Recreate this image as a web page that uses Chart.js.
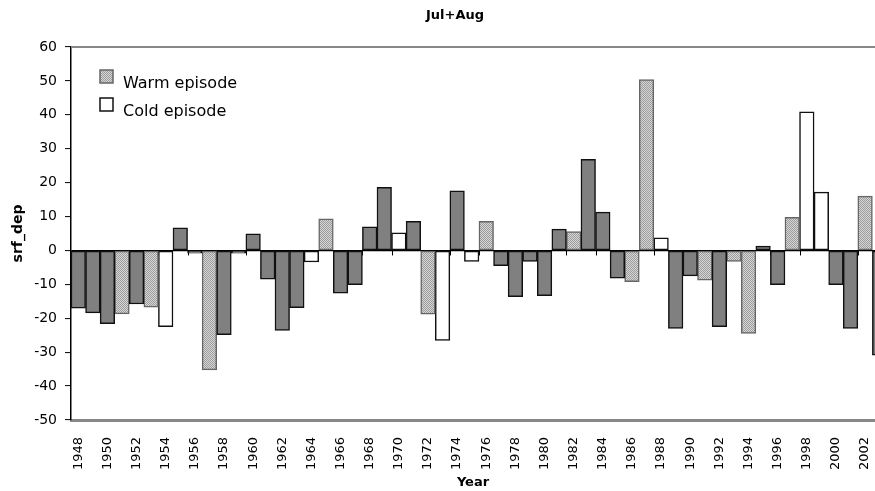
<!DOCTYPE html>
<html>
<head>
<meta charset="utf-8">
<script src="https://cdn.jsdelivr.net/npm/chart.js@4"></script>
<style>
  html, body { margin: 0; padding: 0; background: #fff; overflow: hidden; }
  #wrap { width: 875px; height: 491px; position: relative; }
</style>
</head>
<body>
<div id="wrap"><canvas id="chart"></canvas></div>
<script>
// srf_dep, Jul+Aug, 1948-2003
const years = [
  1948, 1949, 1950, 1951, 1952, 1953, 1954, 1955, 1956, 1957,
  1958, 1959, 1960, 1961, 1962, 1963, 1964, 1965, 1966, 1967,
  1968, 1969, 1970, 1971, 1972, 1973, 1974, 1975, 1976, 1977,
  1978, 1979, 1980, 1981, 1982, 1983, 1984, 1985, 1986, 1987,
  1988, 1989, 1990, 1991, 1992, 1993, 1994, 1995, 1996, 1997,
  1998, 1999, 2000, 2001, 2002, 2003
];
const values = [
  -17.0, -18.4, -21.6, -18.7, -15.8, -16.7, -22.5, 6.7, -0.8, -35.2,
  -24.8, -0.8, 4.9, -8.5, -23.6, -16.9, -3.4, 9.3, -12.6, -10.1,
  7.0, 18.6, 5.2, 8.6, -18.8, -26.5, 17.6, -3.2, 8.6, -4.5,
  -13.6, -3.2, -13.3, 6.3, 5.6, 26.9, 11.3, -8.2, -9.2, 50.4,
  3.7, -23.0, -7.5, -8.8, -22.5, -3.2, -24.5, 1.3, -10.1, 9.8,
  40.9, 17.2, -10.1, -23.0, 16.0, -30.9
];
// N = neutral, W = warm episode, C = cold episode
const phase = [
  'N', 'N', 'N', 'W', 'N', 'W', 'C', 'N', 'N', 'W',
  'N', 'N', 'N', 'N', 'N', 'N', 'C', 'W', 'N', 'N',
  'N', 'N', 'C', 'N', 'W', 'C', 'N', 'C', 'W', 'N',
  'N', 'N', 'N', 'N', 'W', 'N', 'N', 'N', 'W', 'W',
  'C', 'N', 'N', 'W', 'N', 'W', 'W', 'N', 'N', 'W',
  'C', 'C', 'N', 'N', 'W', 'N'
];
const yTicks = { min: -50, max: 60, step: 10 };

Chart.defaults.font.family = "'DejaVu Sans', sans-serif";
Chart.defaults.color = '#000';

// stipple fill for the warm bars
function makeStipple() {
  const c = document.createElement('canvas');
  c.width = 2; c.height = 2;
  const g = c.getContext('2d');
  g.fillStyle = '#d6d6d6'; g.fillRect(0, 0, 2, 2);
  g.fillStyle = '#9c9c9c';
  g.fillRect(0, 0, 1, 1);
  g.fillRect(1, 1, 1, 1);
  return g.createPattern(c, 'repeat');
}
const stipple = makeStipple();

const pick = code => years
  .map((yr, i) => ({ x: yr, y: values[i], p: phase[i] }))
  .filter(d => d.p === code)
  .map(d => ({ x: d.x, y: d.y }));

const barBase = { grouped: false, barPercentage: 1, categoryPercentage: 1, borderSkipped: false, borderWidth: 1.5 };

/* ── plugins ─────────────────────────────────────── */

const titlePlugin = {
  id: 'topTitle',
  afterDraw(chart) {
    const { ctx } = chart;
    ctx.save();
    ctx.font = "bold 13px 'DejaVu Sans'";
    ctx.fillStyle = '#000';
    ctx.textAlign = 'center';
    ctx.textBaseline = 'alphabetic';
    ctx.fillText('Jul+Aug', 455, 19);
    ctx.restore();
  }
};

// gray plot-area edge at the top + small category ticks under the zero line
const frameTicks = {
  id: 'frameTicks',
  beforeDatasetsDraw(chart) {
    const { ctx, chartArea: a, scales: { x, y } } = chart;
    ctx.save();
    ctx.strokeStyle = '#888';
    ctx.lineWidth = 2;
    ctx.beginPath();
    ctx.moveTo(a.left, a.top);
    ctx.lineTo(a.right, a.top);
    ctx.stroke();

    const y0 = y.getPixelForValue(0);
    ctx.strokeStyle = '#000';
    ctx.lineWidth = 1;
    years.forEach((yr, i) => {
      if (i % 2) return;
      const px = Math.round(x.getPixelForValue(yr - 0.5)) + 0.5;
      ctx.beginPath();
      ctx.moveTo(px, y0);
      ctx.lineTo(px, y0 + 5);
      ctx.stroke();
    });
    ctx.restore();
  }
};

const legendPlugin = {
  id: 'boxLegend',
  afterDraw(chart) {
    const { ctx } = chart;
    const items = [
      { ds: chart.data.datasets[1], y: 70 },
      { ds: chart.data.datasets[2], y: 98 }
    ];
    ctx.save();
    ctx.font = "16px 'DejaVu Sans'";
    ctx.textBaseline = 'alphabetic';
    ctx.textAlign = 'left';
    items.forEach(it => {
      ctx.fillStyle = it.ds.backgroundColor;
      ctx.fillRect(100, it.y, 13, 13);
      ctx.strokeStyle = it.ds.borderColor;
      ctx.lineWidth = 1.5;
      ctx.strokeRect(100, it.y, 13, 13);
      ctx.fillStyle = '#000';
      ctx.fillText(it.ds.label, 123, it.y + 18);
    });
    ctx.restore();
  }
};

/* ── chart ───────────────────────────────────────── */

new Chart(document.getElementById('chart'), {
  type: 'bar',
  plugins: [titlePlugin, frameTicks, legendPlugin],
  data: {
    datasets: [
      { ...barBase, label: 'Other', data: pick('N'), backgroundColor: '#808080', borderColor: '#111' },
      { ...barBase, label: 'Warm episode', data: pick('W'), backgroundColor: stipple, borderColor: '#666' },
      { ...barBase, label: 'Cold episode', data: pick('C'), backgroundColor: '#ffffff', borderColor: '#111' }
    ]
  },
  options: {
    responsive: true,
    maintainAspectRatio: false,
    animation: false,
    layout: { padding: { top: 47, left: 0, right: 0, bottom: 0 } },
    scales: {
      x: {
        type: 'linear',
        offset: false,
        min: years[0] - 0.5,
        max: 2002.68,
        afterFit: s => { s.height = 71; s.paddingLeft = 0; s.paddingRight = 0; },
        grid: { display: false, offset: false },
        border: { display: true, color: '#888', width: 3 },
        ticks: {
          stepSize: 2,
          includeBounds: false,
          autoSkip: false,
          minRotation: 90,
          maxRotation: 90,
          padding: 9,
          font: { size: 13 },
          callback: v => String(v)
        },
        title: {
          display: true,
          text: 'Year',
          font: { size: 13, weight: 'bold' },
          padding: { top: 0, bottom: 1 }
        }
      },
      y: {
        min: yTicks.min,
        max: yTicks.max,
        afterFit: s => { s.width = 71; },
        grid: {
          color: c => c.tick.value === 0 ? '#000' : 'rgba(0,0,0,0)',
          lineWidth: 1.2,
          tickColor: '#000',
          tickLength: 6,
          tickWidth: 1
        },
        border: { display: true, color: '#000', width: 1.5 },
        ticks: { stepSize: yTicks.step, padding: 8, font: { size: 14 } },
        title: {
          display: true,
          text: 'srf_dep',
          font: { size: 14, weight: 'bold' },
          padding: { top: 10, bottom: 0 }
        }
      }
    },
    plugins: {
      legend: { display: false },
      tooltip: { enabled: false }
    }
  }
});
</script>
</body>
</html>
